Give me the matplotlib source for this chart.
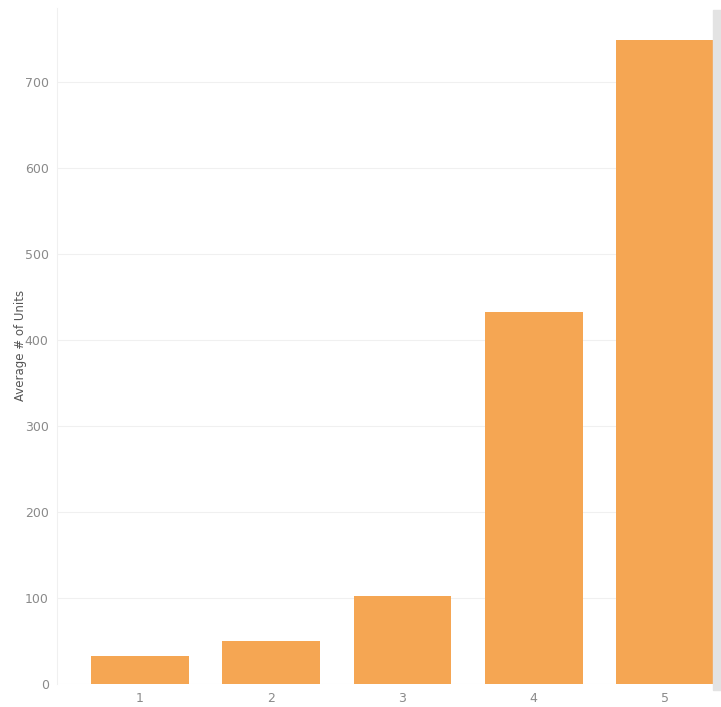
import matplotlib
matplotlib.use("Agg")
import matplotlib.pyplot as plt
from matplotlib.patches import Rectangle

categories = ["1", "2", "3", "4", "5"]
values = [33, 50, 102, 433, 749]
yticks = [0, 100, 200, 300, 400, 500, 600, 700]

W, H = 721, 707
fig = plt.figure(figsize=(W / 100, H / 100), dpi=100)
left, right, top, bottom = 57, 713, 8, 684
ax = fig.add_axes([left / W, 1 - bottom / H, (right - left) / W, (bottom - top) / H])

x = list(range(len(categories)))
ax.bar(x, values, width=0.745, color="#F5A653", zorder=3)
ax.set_xlim(-0.632, 4.366)
ax.set_ylim(0, 786)
ax.set_xticks(x)
ax.set_xticklabels(categories)
ax.set_yticks(yticks)
ax.set_yticklabels([str(v) for v in yticks])
ax.tick_params(axis="both", length=0, labelsize=9, labelcolor="#8a8a8a")
ax.tick_params(axis="x", pad=6)
ax.tick_params(axis="y", pad=6)
ax.grid(axis="y", color="#f0f0f0", linewidth=0.8, zorder=0)
for s in ["top", "right", "bottom"]:
    ax.spines[s].set_visible(False)
ax.spines["left"].set_color("#f0f0f0")
ax.set_ylabel("Average # of Units", fontsize=8.5, color="#555555")
ax.yaxis.label.set_verticalalignment("center")
ax.yaxis.set_label_coords((20 - left) / (right - left), 1 - (345 - top) / (bottom - top))

fig.patches.append(Rectangle((713 / W, 1 - 690 / H), 8 / W, 680 / H,
                             transform=fig.transFigure, color="#e3e3e3", zorder=5))
fig.savefig("out.png", dpi=100)
